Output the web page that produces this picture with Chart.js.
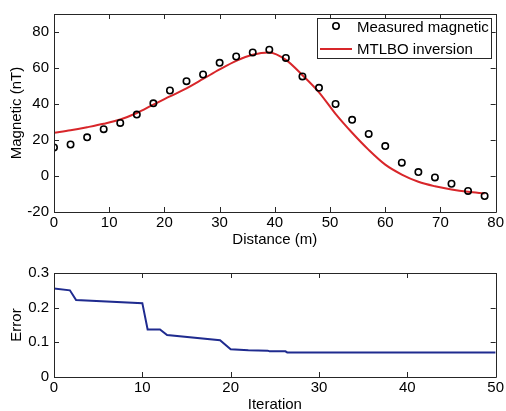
<!DOCTYPE html>
<html>
<head>
<meta charset="utf-8">
<script src="https://cdn.jsdelivr.net/npm/chart.js@4"></script>
<style>
    html, body { margin: 0; padding: 0; background: #fff; overflow: hidden; }
    .wrap { position: absolute; left: 0; width: 506px; }
    #topWrap { top: 0; height: 253px; }
    #bottomWrap { top: 250px; height: 165px; }
</style>
</head>
<body>
<div class="wrap" id="topWrap"><canvas id="magChart" width="506" height="253"></canvas></div>
<div class="wrap" id="bottomWrap"><canvas id="errChart" width="506" height="165"></canvas></div>
<script>
// profile along the survey line
var distance = [0, 3, 6, 9, 12, 15, 18, 21, 24, 27, 30, 33, 36, 39, 42, 45, 48, 51, 54, 57, 60, 63, 66, 69, 72, 75, 78];
var measured = [15.9, 17.5, 21.5, 26, 29.5, 34.1, 40.4, 47.5, 52.7, 56.4, 62.9, 66.4, 68.6, 70.2, 65.6, 55.3, 49, 40, 31.2, 23.4, 16.6, 7.4, 2.2, -0.8, -4.3, -8.3, -11.1];
var inversion = [24, 25.4, 27.1, 29, 31.4, 35, 39.7, 44.2, 48.7, 53.9, 59.2, 64, 67.4, 68.6, 64.5, 56, 46.5, 34.5, 24, 14.5, 6.3, 0.8, -3.2, -5.7, -7.5, -8.8, -9.7];

// convergence history
var iteration = [0, 1.8, 2.5, 10, 10.6, 12, 12.8, 18.8, 20, 22, 24.2, 24.4, 26.2, 26.4, 50];
var errorValues = [0.255, 0.25, 0.222, 0.213, 0.137, 0.137, 0.121, 0.106, 0.08, 0.077, 0.076, 0.074, 0.074, 0.071, 0.071];

var distanceTicks = [0, 10, 20, 30, 40, 50, 60, 70, 80];
var magneticTicks = [-20, 0, 20, 40, 60, 80];
var iterationTicks = [0, 10, 20, 30, 40, 50];
var errorTicks = [0, 0.1, 0.2, 0.3];

var FONT = "'Liberation Sans', Arial, sans-serif";
var AXIS_COLOR = '#262626';

function toPoints(xs, ys) {
    var pts = [];
    for (var i = 0; i < xs.length; i++) {
        pts.push({ x: xs[i], y: ys[i] });
    }
    return pts;
}

function setTicks(list) {
    return function (scale) {
        scale.ticks = list.map(function (v) { return { value: v }; });
    };
}

function fixSize(size) {
    return function (scale) {
        if (scale.isHorizontal()) {
            scale.height = size;
        } else {
            scale.width = size;
        }
    };
}

// box round the plot area with inward tick marks on all four sides
var framePlugin = {
    id: 'frame',
    afterDatasetsDraw: function (chart) {
        var ctx = chart.ctx;
        var a = chart.chartArea;
        var len = 5;
        ctx.save();
        ctx.strokeStyle = AXIS_COLOR;
        ctx.lineWidth = 1;
        ctx.beginPath();
        ctx.rect(Math.round(a.left) + 0.5, Math.round(a.top) + 0.5, Math.round(a.right - a.left), Math.round(a.bottom - a.top));
        chart.scales.x.ticks.forEach(function (t) {
            var px = Math.round(chart.scales.x.getPixelForValue(t.value)) + 0.5;
            ctx.moveTo(px, a.bottom);
            ctx.lineTo(px, a.bottom - len);
            ctx.moveTo(px, a.top);
            ctx.lineTo(px, a.top + len);
        });
        chart.scales.y.ticks.forEach(function (t) {
            var py = Math.round(chart.scales.y.getPixelForValue(t.value)) + 0.5;
            ctx.moveTo(a.left, py);
            ctx.lineTo(a.left + len, py);
            ctx.moveTo(a.right, py);
            ctx.lineTo(a.right - len, py);
        });
        ctx.stroke();
        ctx.restore();
    }
};

// legend box in the top right corner, built from the dataset styles
var boxLegendPlugin = {
    id: 'boxLegend',
    afterDraw: function (chart) {
        var ctx = chart.ctx;
        var sets = chart.data.datasets;
        var x0 = 317, y0 = 18, w = 174, rowH = 22;
        ctx.save();
        ctx.fillStyle = '#fff';
        ctx.fillRect(x0, y0, w, rowH * sets.length - 4);
        ctx.strokeStyle = AXIS_COLOR;
        ctx.lineWidth = 1;
        ctx.strokeRect(x0 + 0.5, y0 + 0.5, w, rowH * sets.length - 4);
        ctx.font = '15px ' + FONT;
        ctx.textBaseline = 'middle';
        ctx.textAlign = 'left';
        sets.forEach(function (ds, i) {
            var cy = y0 + 9 + i * rowH;
            if (ds.showLine) {
                ctx.strokeStyle = ds.borderColor;
                ctx.lineWidth = ds.borderWidth;
                ctx.beginPath();
                ctx.moveTo(x0 + 3, cy);
                ctx.lineTo(x0 + 35, cy);
                ctx.stroke();
            } else {
                ctx.strokeStyle = ds.pointBorderColor;
                ctx.lineWidth = ds.pointBorderWidth;
                ctx.beginPath();
                ctx.arc(x0 + 19, cy - 1, ds.pointRadius, 0, Math.PI * 2);
                ctx.stroke();
            }
            ctx.fillStyle = '#000';
            ctx.fillText(ds.label, x0 + 40, cy + 1);
        });
        ctx.restore();
    }
};

function axisTitle(text, pad) {
    return {
        display: true,
        text: text,
        color: '#000',
        font: { family: FONT, size: 15 },
        padding: pad
    };
}

function tickStyle(pad) {
    return {
        color: '#000',
        padding: pad,
        font: { family: FONT, size: 15 }
    };
}

new Chart(document.getElementById('magChart').getContext('2d'), {
    type: 'scatter',
    data: {
        datasets: [
            {
                label: 'Measured magnetic',
                data: toPoints(distance, measured),
                showLine: false,
                pointStyle: 'circle',
                pointRadius: 3.2,
                pointBackgroundColor: 'rgba(0,0,0,0)',
                pointBorderColor: '#000',
                pointBorderWidth: 1.6,
                order: 1
            },
            {
                label: 'MTLBO inversion',
                data: toPoints(distance, inversion),
                showLine: true,
                borderColor: '#d8262a',
                borderWidth: 2,
                pointRadius: 0,
                cubicInterpolationMode: 'monotone',
                order: 2
            }
        ]
    },
    options: {
        responsive: false,
        animation: false,
        layout: { padding: { left: 0, top: 13, right: 8, bottom: 0 } },
        plugins: { legend: { display: false }, tooltip: { enabled: false } },
        scales: {
            x: {
                type: 'linear',
                min: 0,
                max: 80,
                afterBuildTicks: setTicks(distanceTicks),
                afterFit: fixSize(41),
                grid: { display: false, drawTicks: false },
                border: { display: false },
                ticks: tickStyle(2),
                title: axisTitle('Distance (m)', { top: 0, bottom: 4 })
            },
            y: {
                type: 'linear',
                min: -20,
                max: 90,
                afterBuildTicks: setTicks(magneticTicks),
                afterFit: fixSize(54),
                grid: { display: false, drawTicks: false },
                border: { display: false },
                ticks: tickStyle(5),
                title: axisTitle('Magnetic (nT)', { top: 8, bottom: 0 })
            }
        }
    },
    plugins: [framePlugin, boxLegendPlugin]
});

new Chart(document.getElementById('errChart').getContext('2d'), {
    type: 'scatter',
    data: {
        datasets: [{
            label: 'Error',
            data: toPoints(iteration, errorValues),
            showLine: true,
            borderColor: '#1f2b8f',
            borderWidth: 2,
            pointRadius: 0,
            tension: 0
        }]
    },
    options: {
        responsive: false,
        animation: false,
        layout: { padding: { left: 0, top: 23, right: 8, bottom: 0 } },
        plugins: { legend: { display: false }, tooltip: { enabled: false } },
        scales: {
            x: {
                type: 'linear',
                min: 0,
                max: 50,
                afterBuildTicks: setTicks(iterationTicks),
                afterFit: fixSize(38),
                grid: { display: false, drawTicks: false },
                border: { display: false },
                ticks: tickStyle(2),
                title: axisTitle('Iteration', { top: 0, bottom: 1 })
            },
            y: {
                type: 'linear',
                min: 0,
                max: 0.3,
                afterBuildTicks: setTicks(errorTicks),
                afterFit: fixSize(54),
                grid: { display: false, drawTicks: false },
                border: { display: false },
                ticks: tickStyle(5),
                title: axisTitle('Error', { top: 8, bottom: 0 })
            }
        }
    },
    plugins: [framePlugin]
});
</script>
</body>
</html>
